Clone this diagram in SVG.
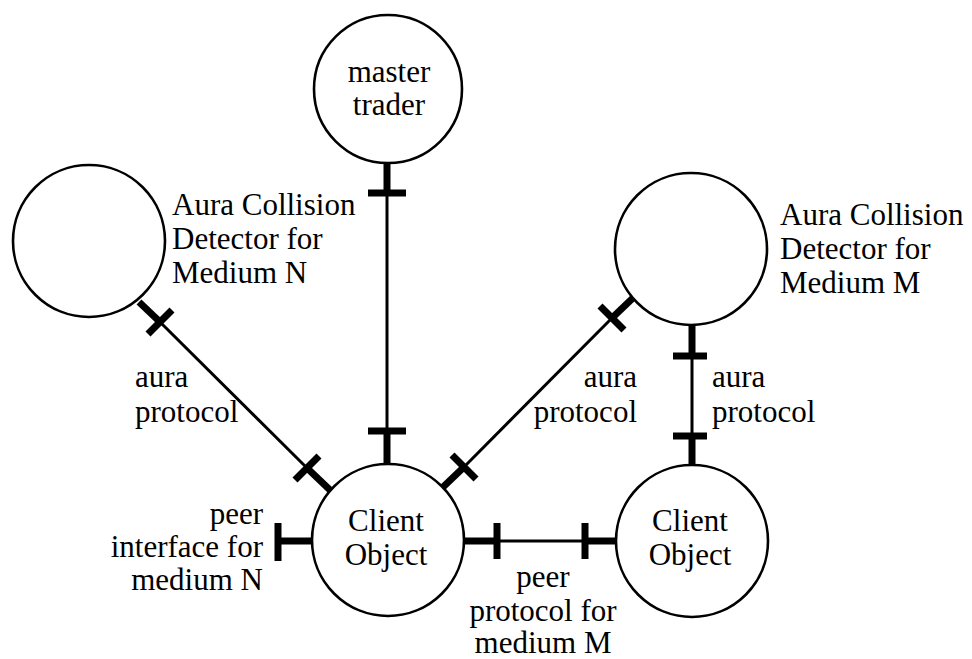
<svg xmlns="http://www.w3.org/2000/svg" width="972" height="659" viewBox="0 0 972 659">
<style>
.node{fill:#fff;stroke:#000;stroke-width:2.6}
.thin{stroke:#000;stroke-width:3;fill:none}
.thick{stroke:#000;stroke-width:7;stroke-linecap:butt;fill:none}
text{font-family:'Liberation Serif','DejaVu Serif',serif;font-size:31px;fill:#000}
.c{text-anchor:middle}
.r{text-anchor:end}
</style>
<rect width="972" height="659" fill="#fff"/>
<g id="connectors">
<line class="thin" x1="387" y1="193" x2="387" y2="431"/>
<line class="thick" x1="387" y1="162" x2="387" y2="193"/>
<line class="thick" x1="368" y1="193" x2="406" y2="193"/>
<line class="thick" x1="368" y1="431" x2="406" y2="431"/>
<line class="thick" x1="387" y1="431" x2="387" y2="465"/>
<line class="thin" x1="160" y1="322" x2="307" y2="468"/>
<line class="thick" x1="139" y1="302" x2="160" y2="322"/>
<line class="thick" x1="148" y1="334" x2="172" y2="310"/>
<line class="thick" x1="295" y1="480" x2="319" y2="456"/>
<line class="thick" x1="307" y1="468" x2="330" y2="490"/>
<line class="thin" x1="612" y1="318" x2="464" y2="467"/>
<line class="thick" x1="635" y1="296" x2="612" y2="318"/>
<line class="thick" x1="600" y1="306" x2="624" y2="330"/>
<line class="thick" x1="452" y1="455" x2="476" y2="479"/>
<line class="thick" x1="464" y1="467" x2="441" y2="489"/>
<line class="thin" x1="692" y1="356" x2="692" y2="436"/>
<line class="thick" x1="692" y1="324" x2="692" y2="356"/>
<line class="thick" x1="673" y1="356" x2="707" y2="356"/>
<line class="thick" x1="673" y1="436" x2="707" y2="436"/>
<line class="thick" x1="692" y1="436" x2="692" y2="466"/>
<line class="thin" x1="497" y1="541" x2="585" y2="541"/>
<line class="thick" x1="463" y1="541" x2="497" y2="541"/>
<line class="thick" x1="497" y1="523" x2="497" y2="559"/>
<line class="thick" x1="585" y1="523" x2="585" y2="559"/>
<line class="thick" x1="585" y1="541" x2="617" y2="541"/>
<line class="thick" x1="278" y1="541" x2="313" y2="541"/>
<line class="thick" x1="278" y1="523" x2="278" y2="561"/>
</g>
<g id="master-trader">
<circle class="node" cx="388" cy="89" r="74"/>
<text class="c" x="389" y="82">master</text>
<text class="c" x="389" y="115">trader</text>
</g>
<g id="aura-n">
<circle class="node" cx="89" cy="241" r="76"/>
<text x="172" y="215">Aura Collision</text>
<text x="172" y="249">Detector for</text>
<text x="172" y="283">Medium N</text>
</g>
<g id="aura-m">
<circle class="node" cx="691" cy="249" r="76"/>
<text x="780" y="225">Aura Collision</text>
<text x="780" y="259">Detector for</text>
<text x="780" y="293">Medium M</text>
</g>
<g id="client-left">
<circle class="node" cx="388" cy="540" r="76"/>
<text class="c" x="386" y="531">Client</text>
<text class="c" x="386" y="565">Object</text>
</g>
<g id="client-right">
<circle class="node" cx="692" cy="541" r="76"/>
<text class="c" x="690" y="531">Client</text>
<text class="c" x="690" y="565">Object</text>
</g>
<g id="labels">
<text x="135" y="387">aura</text>
<text x="135" y="422">protocol</text>
<text class="r" x="637" y="387">aura</text>
<text class="r" x="637" y="422">protocol</text>
<text x="712" y="387">aura</text>
<text x="712" y="422">protocol</text>
<text class="r" x="263" y="524">peer</text>
<text class="r" x="263" y="557">interface for</text>
<text class="r" x="263" y="590">medium N</text>
<text class="c" x="543" y="587">peer</text>
<text class="c" x="543" y="621">protocol for</text>
<text class="c" x="543" y="653">medium M</text>
</g>
</svg>
